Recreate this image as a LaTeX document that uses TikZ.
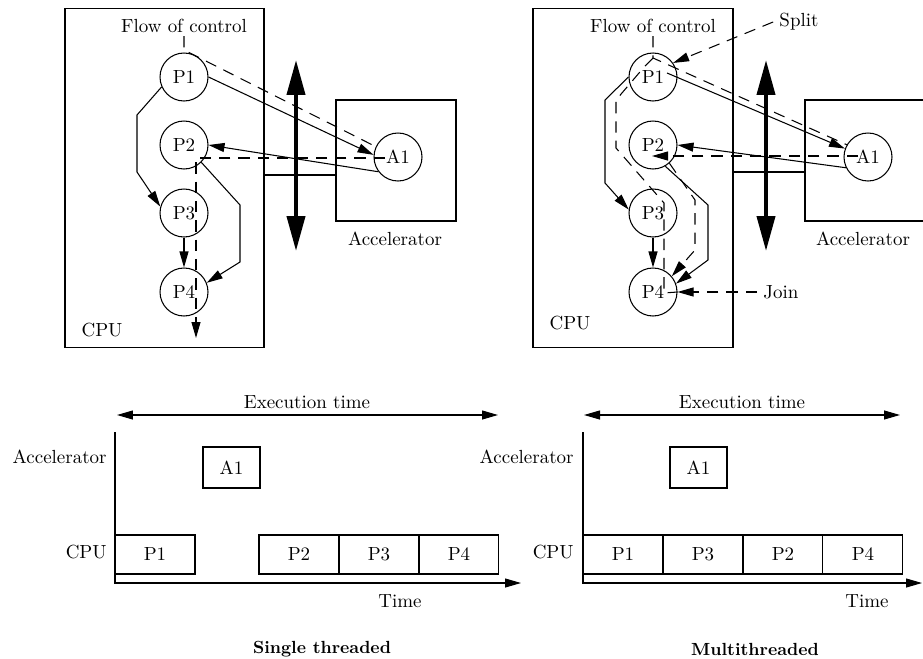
\documentclass[tikz,border=0pt]{standalone}
\usepackage{tikz}
\usetikzlibrary{arrows.meta,positioning,calc}

\begin{document}
\begin{tikzpicture}[x=0.02cm, y=-0.02cm, line width=0.6pt,
  >={Triangle[length=0.32cm,width=0.18cm]},
  every node/.style={font=\fontsize{10.8}{13}\selectfont},
  proc/.style={draw, circle, minimum size=0.96cm, inner sep=0pt},
  slot/.style={draw, minimum width=1.6cm, minimum height=0.78cm, outer sep=0pt},
  caption/.style={font=\fontsize{10}{12}\selectfont\bfseries},
  flow/.style={dash pattern=on 6.5pt off 4.5pt},
  bus/.style={line width=2.3pt, {Triangle[length=0.7cm,width=0.36cm]}-{Triangle[length=0.7cm,width=0.36cm]}}]
  \useasboundingbox (0,0) rectangle (923,659);

  % single threaded: CPU and accelerator
  \node[draw, minimum width=3.98cm, minimum height=6.8cm] (lcpu) at (164.5,178) {};
  \node[draw, minimum width=2.4cm, minimum height=2.42cm] (lacc) at (396,160.5) {};
  \draw (lcpu.east |- 0,175) -- (lacc.west |- 0,175);
  \node (lflow) at (184,26) {Flow of control};
  \node at (102,330) {CPU};
  \node at (395,239) {Accelerator};
  \coordinate (lbusT) at (296,60);
  \coordinate (lbusB) at (296,251);
  \draw[bus] (lbusT) -- (lbusB);

  \node[proc] (lP1) at (184,77) {P1};
  \node[proc] (lP2) at (184,145) {P2};
  \node[proc] (lP3) at (184,213) {P3};
  \node[proc] (lP4) at (184,292) {P4};
  \node[proc] (lA1) at (398,157) {A1};

  \draw[->] (lP1.east) -- (lA1.175);
  \draw[->] (lA1.-143) -- (lP2.east);
  \draw[->] (lP1.-156) -- (137,115) -- (137,172) -- (lP3.165);
  \draw[->] (lP3.south) -- (lP4.north);
  \draw[->] (lP2.-45) -- (240,205) -- (240,262) -- (lP4.22);

  % flow of control
  \coordinate (lstart) at (184,36);
  \coordinate (lsplit) at (184,50);
  \coordinate (lret) at (196,158);
  \coordinate (lend) at (196,338);
  \draw[flow] (lstart) -- (lsplit) -- (lA1.155);
  \draw[flow,->] ($(lA1)+(-13,1)$) -- (lret) -- (lend);

  % multithreaded: CPU and accelerator
  \node[draw, minimum width=4cm, minimum height=6.8cm] (rcpu) at (633,178) {};
  \node[draw, minimum width=2.4cm, minimum height=2.42cm] (racc) at (865,160.5) {};
  \draw (rcpu.east |- 0,172) -- (racc.west |- 0,172);
  \node (rflow) at (653,26) {Flow of control};
  \node at (570,323) {CPU};
  \node at (863,239) {Accelerator};
  \coordinate (rbusT) at (766,60);
  \coordinate (rbusB) at (766,251);
  \draw[bus] (rbusT) -- (rbusB);

  \node[proc] (rP1) at (653,77) {P1};
  \node[proc] (rP2) at (653,145) {P2};
  \node[proc] (rP3) at (653,213) {P3};
  \node[proc] (rP4) at (653,292) {P4};
  \node[proc] (rA1) at (868,157) {A1};

  \draw[->] ($(rP1)+(14,-4)$) -- (rA1.160);
  \draw[->] (rA1.-154) -- (rP2.east);
  \draw[->] (rP1.west) -- (605,100) -- (605,183) -- (rP3.172);
  \draw[->] (rP3.south) -- (rP4.north);
  \draw[->] (rP2.-60) -- (708,205) -- (708,260) -- (rP4.20);

  % split and join
  \node (split) at (799,22) {Split};
  \node (join) at (781,292) {Join};
  \coordinate (rstart) at (653,36);
  \coordinate (rsplit) at (653,58);
  \coordinate (rjoin) at (664,293);
  \draw[flow] (rstart) -- (rsplit) -- (rA1.150);
  \draw[flow] (rsplit) -- (645,66) -- (616,100) -- (616,148) -- (664,203) -- (rjoin) -- (rP4.east);
  \draw[flow,->] ($(rA1)+(-10,-1)$) -- ($(rP2)+(-1,11)$);
  \draw[flow,->] (rP2.-48) -- (695,200) -- (695,250) -- (rP4.40);
  \draw[flow,->] (split.west) -- (rP1.35);
  \draw[flow,->] (join.west) -- (rP4.east);

  % single threaded timeline
  \coordinate (sTop) at (115,432);
  \coordinate (sO) at (115,583);
  \coordinate (sEnd) at (521,583);
  \draw[->] (sTop) -- (sO) -- (sEnd);
  \coordinate (sEl) at (117,415);
  \coordinate (sEr) at (498,415);
  \draw[<->] (sEl) -- (sEr);
  \node at (307,402) {Execution time};
  \node[anchor=east] at (113,457) {Accelerator};
  \node[anchor=east] at (113,552) {CPU};
  \node[draw, minimum width=1.14cm, minimum height=0.82cm] (sA1) at (231.5,467.5) {A1};
  \node[slot] (sP1) at (155,554.5) {P1};
  \node[slot] (sP2) at (299,554.5) {P2};
  \node[slot, right=0pt of sP2] (sP3) {P3};
  \node[slot, right=0pt of sP3] (sP4) {P4};
  \node at (400,601) {Time};
  \node[caption] at (322,649) {Single threaded};

  % multithreaded timeline
  \coordinate (mTop) at (583,432);
  \coordinate (mO) at (583,583);
  \coordinate (mEnd) at (922,583);
  \draw[->] (mTop) -- (mO) -- (mEnd);
  \coordinate (mEl) at (584,415);
  \coordinate (mEr) at (900,415);
  \draw[<->] (mEl) -- (mEr);
  \node at (742,402) {Execution time};
  \node[anchor=east] at (580,457) {Accelerator};
  \node[anchor=east] at (580,552) {CPU};
  \node[draw, minimum width=1.14cm, minimum height=0.82cm] (mA1) at (698.5,467.5) {A1};
  \node[slot] (mP1) at (623,554.5) {P1};
  \node[slot, right=0pt of mP1] (mP3) {P3};
  \node[slot, right=0pt of mP3] (mP2) {P2};
  \node[slot, right=0pt of mP2] (mP4) {P4};
  \node at (867,601) {Time};
  \node[caption] at (755,649) {Multithreaded};
\end{tikzpicture}
\end{document}
